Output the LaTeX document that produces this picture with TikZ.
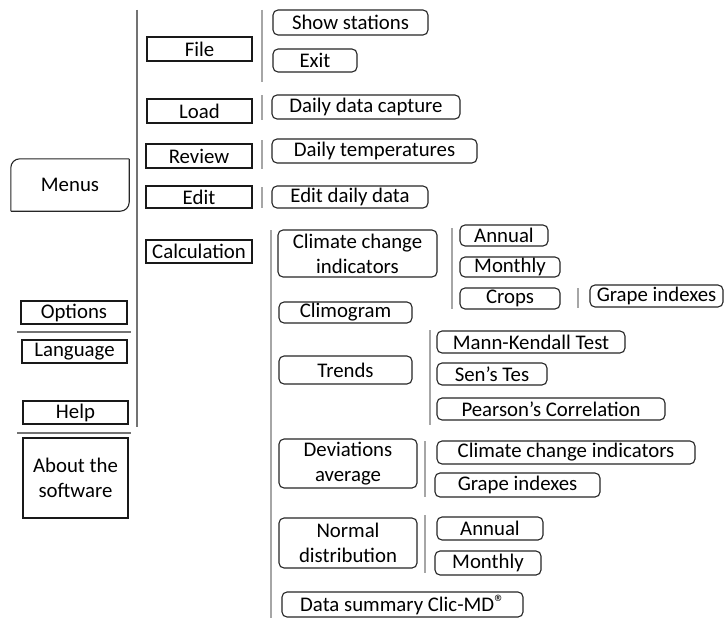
\documentclass[tikz,border=0pt]{standalone}
\usepackage{fontspec}
\setmainfont{Carlito}
\newcommand\fsz{\fontsize{20.8}{25}\selectfont}
\newcommand\bx[7]{\node[#1, minimum width={(#4-#2)*1pt}, minimum height={(#5-#3)*1pt}, align=center] (#6) at ({(#2+#4)/2},{(#3+#5)/2}) {#7};}
\begin{document}
\begin{tikzpicture}[x=1pt,y=-1pt,
  sq/.style={draw=black!90, line width=1.1pt, inner sep=0pt, font=\fsz},
  rb/.style={draw=black!85, line width=1.1pt, rounded corners=5pt, inner sep=0pt, font=\fsz},
  plain/.style={draw=none, inner sep=0pt, font=\fsz},
  sepA/.style={draw=black!55, line width=1.3pt},
  sepB/.style={draw=black!35, line width=1.3pt}]
\useasboundingbox[fill=white] (0,0) rectangle (725,618);
% left column
\bx{plain}{11}{159}{129}{211}{menus}{Menus}
\draw[line width=1.1pt, draw=black!85, rounded corners=9pt] (menus.south west) -- (menus.north west) -- (menus.north east);
\draw[line width=1.1pt, draw=black!85, rounded corners=9pt] (menus.north east) -- (menus.south east) -- (menus.south west);
\bx{sq}{21}{301}{127}{324}{options}{Options}
\bx{sq}{22}{340}{127}{363}{language}{Language}
\bx{sq}{23}{401}{128}{424}{help}{Help}
\bx{sq}{23}{438}{128}{518}{about}{About the\\software}
\coordinate (h1a) at (17,332); \coordinate (h1b) at (131,332);
\coordinate (h2a) at (17,433); \coordinate (h2b) at (131,433);
\draw[sepA] (h1a) -- (h1b);
\draw[sepA] (h2a) -- (h2b);
% main menu column
\coordinate (l0a) at (137,10); \coordinate (l0b) at (137,427);
\draw[sepA] (l0a) -- (l0b);
\bx{sq}{147}{37}{252}{61}{file}{File}
\bx{sq}{147}{99}{252}{123}{load}{Load}
\bx{sq}{146}{144}{252}{168}{review}{Review}
\bx{sq}{146}{186}{252}{208}{edit}{Edit}
\bx{sq}{146}{240}{252}{263}{calc}{Calculation}
% sub menus
\coordinate (l1a) at (262,10); \coordinate (l1b) at (262,82);
\coordinate (l2a) at (262,95); \coordinate (l2b) at (262,120);
\coordinate (l3a) at (262,140); \coordinate (l3b) at (262,169);
\coordinate (l4a) at (262,187); \coordinate (l4b) at (262,208);
\draw[sepB] (l1a) -- (l1b);
\draw[sepB] (l2a) -- (l2b);
\draw[sepB] (l3a) -- (l3b);
\draw[sepB] (l4a) -- (l4b);
\bx{rb}{273}{10}{428}{35}{show}{Show stations}
\bx{rb}{273}{49}{357}{72}{exit}{Exit}
\bx{rb}{272}{95}{460}{119}{capture}{Daily data capture}
\bx{rb}{272}{139}{477}{163}{temps}{Daily temperatures}
\bx{rb}{272}{186}{428}{208}{editdd}{Edit daily data}
% calculation
\coordinate (l5a) at (271,230); \coordinate (l5b) at (271,618);
\draw[sepB] (l5a) -- (l5b);
\bx{rb}{278}{230}{437}{277}{cci}{Climate change\\indicators}
\coordinate (l6a) at (452,228); \coordinate (l6b) at (452,309);
\draw[sepB] (l6a) -- (l6b);
\bx{rb}{460}{225}{548}{246}{annual}{Annual}
\bx{rb}{460}{257}{560}{277}{monthly}{Monthly}
\bx{rb}{460}{288}{560}{309}{crops}{Crops}
\coordinate (l7a) at (578,288); \coordinate (l7b) at (578,308);
\draw[sepB] (l7a) -- (l7b);
\bx{rb}{590}{285}{723}{307}{grape}{Grape indexes}
\bx{rb}{279}{302}{412}{323}{climo}{Climogram}
\bx{rb}{279}{356}{412}{384}{trends}{Trends}
\coordinate (l8a) at (430,330); \coordinate (l8b) at (430,425);
\draw[sepB] (l8a) -- (l8b);
\bx{rb}{437}{331}{625}{353}{mk}{Mann-Kendall Test}
\bx{rb}{437}{363}{547}{385}{sen}{Sen’s Tes}
\bx{rb}{437}{398}{665}{420}{pearson}{Pearson’s Correlation}
\bx{rb}{279}{439}{417}{488}{dev}{Deviations\\average}
\coordinate (l9a) at (425,441); \coordinate (l9b) at (425,497);
\draw[sepB] (l9a) -- (l9b);
\bx{rb}{437}{441}{695}{464}{cci2}{Climate change indicators}
\bx{rb}{435}{473}{600}{497}{grape2}{Grape indexes}
\bx{rb}{279}{518}{417}{568}{normal}{Normal\\distribution}
\coordinate (l10a) at (425,515); \coordinate (l10b) at (425,573);
\draw[sepB] (l10a) -- (l10b);
\bx{rb}{437}{517}{543}{540}{annual2}{Annual}
\bx{rb}{435}{551}{541}{575}{monthly2}{Monthly}
\bx{rb}{282}{592}{523}{617}{summary}{Data summary Clic-MD\raisebox{0.2ex}{®}}
\end{tikzpicture}
\end{document}
